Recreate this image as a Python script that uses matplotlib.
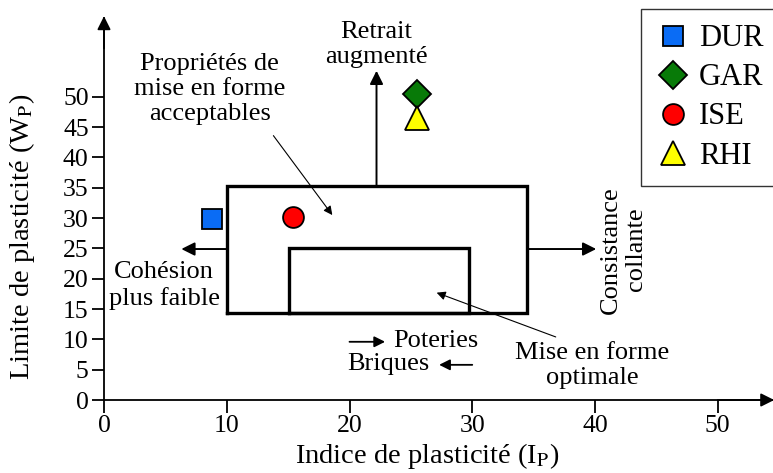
import matplotlib
matplotlib.use("Agg")
import matplotlib.pyplot as plt
from matplotlib.lines import Line2D

plt.rcParams['font.family'] = ['Liberation Serif', 'DejaVu Serif']
plt.rcParams['mathtext.fontset'] = 'stix'

# Data
samples = ["DUR", "GAR", "ISE", "RHI"]
ip_values = [8.8, 25.5, 15.4, 25.5]
wp_values = [29.9, 50.5, 30.2, 46.5]
markers = ["s", "D", "o", "^"]
colors = ["#0a6cf5", "#087a08", "#ff0000", "#ffff00"]

x_ticks = [0, 10, 20, 30, 40, 50]
y_ticks = [0, 5, 10, 15, 20, 25, 30, 35, 40, 45, 50]

# zones (Ip min, Ip max, Wp min, Wp max)
zone_acceptable = (10, 34.5, 14.4, 35.3)
zone_optimal = (15.1, 29.7, 14.4, 25.1)

W, H = 773, 473
fig = plt.figure(figsize=(W/100, H/100), dpi=100)
ax = fig.add_axes([104/W, 73/H, (W-104)/W, (400-18)/H])
ax.set_xlim(0, 54.5)
ax.set_ylim(0, 63)
ax.patch.set_alpha(0)
for s in ['top', 'right']:
    ax.spines[s].set_visible(False)
for s in ['left', 'bottom']:
    ax.spines[s].set_linewidth(1.3)
ax.set_xticks(x_ticks)
ax.set_yticks(y_ticks)
ax.tick_params(length=9, width=1.3, labelsize=18.5, direction='out', pad=2)

# axis arrows
hw = dict(arrowstyle='-|>', mutation_scale=20, lw=1.3, color='k', shrinkA=0, shrinkB=0)
ax.annotate('', xy=(54.6, 0), xytext=(50, 0), arrowprops=hw, annotation_clip=False)
ax.annotate('', xy=(0, 63.3), xytext=(0, 58), arrowprops=hw, annotation_clip=False)

ax.set_xlabel(r"Indice de plasticité (I$_{\mathrm{P}}$)", fontsize=20.5)
ax.set_ylabel(r"Limite de plasticité (W$_{\mathrm{P}}$)", fontsize=20.5)
ax.xaxis.set_label_coords((427-104)/(W-104), -(456-400)/(400-18))
ax.xaxis.label.set_va('center')
ax.yaxis.set_label_coords(-(104-22)/(W-104), (400-237)/(400-18))
ax.yaxis.label.set_va('center')

# zones
for (x0, x1, y0, y1) in [zone_acceptable, zone_optimal]:
    ax.plot([x0, x1, x1, x0, x0], [y0, y0, y1, y1, y0], color='k', lw=2.4,
            solid_joinstyle='miter', zorder=2)

# direction arrows
arr = dict(arrowstyle='-|>', mutation_scale=20, lw=1.4, color='k', shrinkA=0, shrinkB=0)
ax.annotate('', xy=(22.2, 54.3), xytext=(22.2, zone_acceptable[3]), arrowprops=arr)
ax.annotate('', xy=(6.3, 24.9), xytext=(zone_acceptable[0], 24.9), arrowprops=arr)
ax.annotate('', xy=(40.1, 24.9), xytext=(zone_acceptable[1], 24.9), arrowprops=arr)
sarr = dict(arrowstyle='-|>', mutation_scale=16, lw=1.3, color='k', shrinkA=0, shrinkB=0)
ax.annotate('', xy=(22.9, 9.6), xytext=(20.0, 9.6), arrowprops=sarr)
ax.annotate('', xy=(27.3, 5.8), xytext=(30.0, 5.8), arrowprops=sarr)

thin = dict(arrowstyle='-|>', mutation_scale=13, lw=0.8, color='k', shrinkA=0, shrinkB=0)
ax.annotate('', xy=(18.6, 30.5), xytext=(13.8, 43.6), arrowprops=thin)
ax.annotate('', xy=(27.1, 17.7), xytext=(36.8, 10.4), arrowprops=thin)

fs = 19
ls = 1.18
ax.text(8.6, 51.3, "Propriétés de\nmise en forme\nacceptables", ha='center', va='center',
        fontsize=fs, linespacing=ls)
ax.text(22.2, 58.6, "Retrait\naugmenté", ha='center', va='center', fontsize=fs, linespacing=ls)
ax.text(4.9, 18.9, "Cohésion\nplus faible", ha='center', va='center', fontsize=fs, linespacing=ls)
ax.text(42.3, 24.8, "Consistance\ncollante", ha='center', va='center', fontsize=fs,
        rotation=90, linespacing=ls)
ax.text(23.6, 9.7, "Poteries", ha='left', va='center', fontsize=fs)
ax.text(19.8, 5.9, "Briques", ha='left', va='center', fontsize=fs)
ax.text(39.8, 5.7, "Mise en forme\noptimale", ha='center', va='center', fontsize=fs,
        linespacing=ls)

# samples
sizes = [14, 14, 15, 17]
handles = []
for name, x, y, m, c, ms in zip(samples, ip_values, wp_values, markers, colors, sizes):
    ax.plot([x], [y], marker=m, ms=ms, mfc=c, mec='k', mew=1.3, ls='none', zorder=5,
            clip_on=False)
    handles.append(Line2D([], [], marker=m, ms=ms, mfc=c, mec='k', mew=1.3, ls='none',
                          label=name))

leg = fig.legend(handles=handles, loc='upper left', bbox_to_anchor=(641/W, 1 - 9/H),
                 fontsize=22, frameon=True, fancybox=False, edgecolor='k',
                 handletextpad=0.3, borderpad=0.5, labelspacing=0.33, handlelength=1.1,
                 borderaxespad=0)
leg.get_frame().set_linewidth(1.0)

fig.savefig("out.png", dpi=100)
